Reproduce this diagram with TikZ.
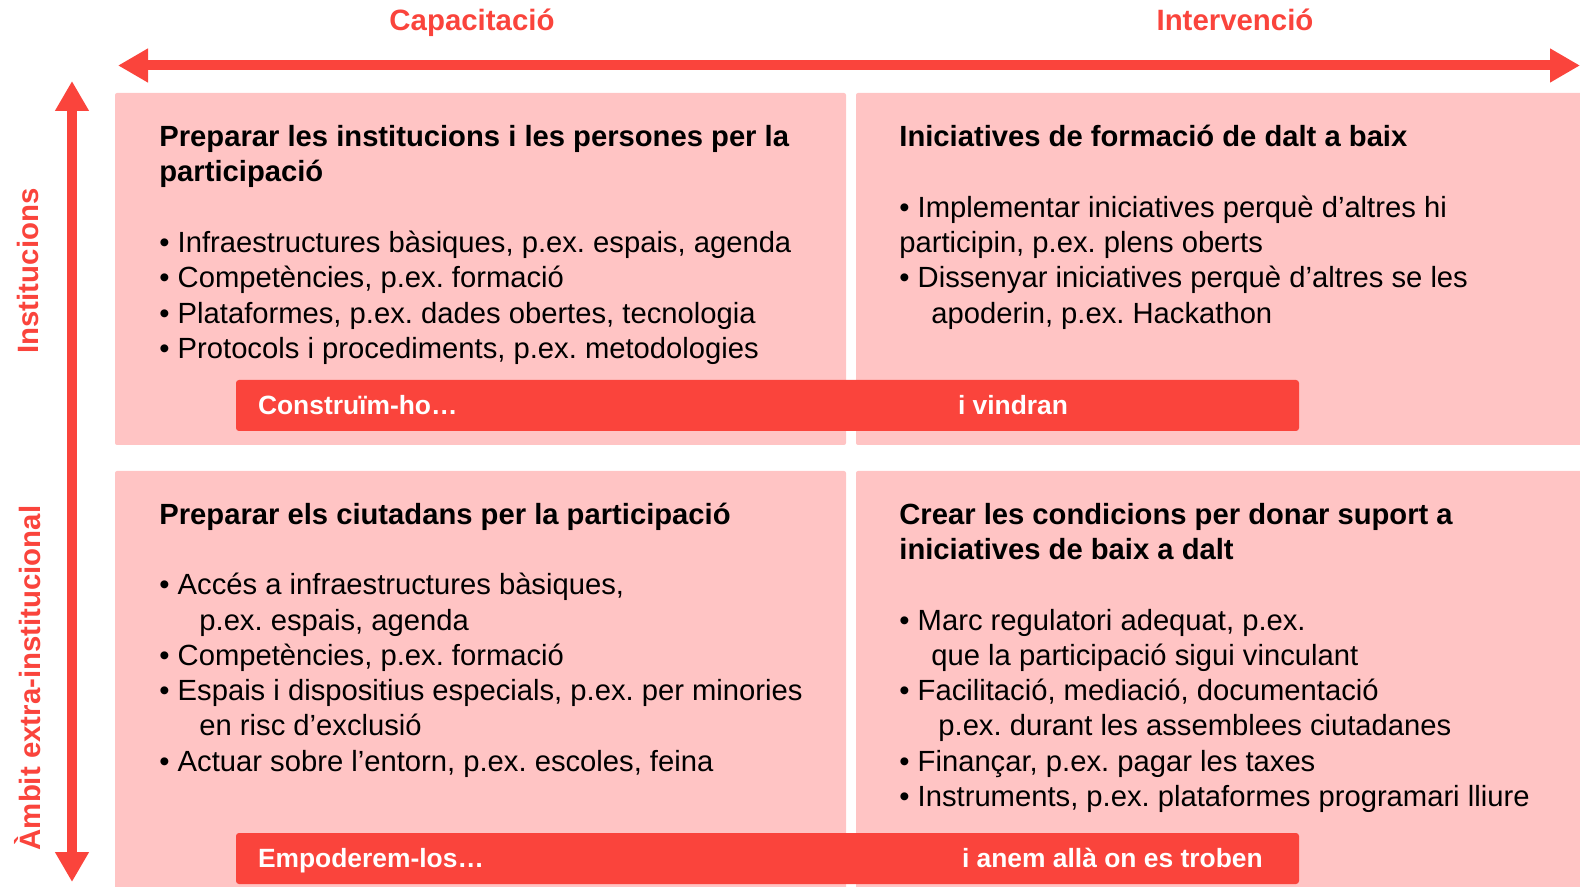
\documentclass[tikz,border=0pt]{standalone}
\usepackage{fontspec}
\setmainfont{Liberation Sans}
\usepackage{xcolor}
\usetikzlibrary{arrows.meta}

\definecolor{pinkbg}{RGB}{255,196,196}
\definecolor{redbar}{RGB}{250,68,60}
\newcommand{\itm}{\textbullet\ }
\frenchspacing

\begin{document}
\begin{tikzpicture}[x=0.5pt, y=-0.5pt,
    quad/.style={fill=pinkbg, rounded corners=1pt},
    bar/.style={fill=redbar, rounded corners=1.5pt, inner sep=0pt, minimum width=531.5pt, minimum height=25.5pt},
    bartext/.style={text=white, font=\fontsize{13.2}{15}\selectfont\bfseries, inner sep=0pt},
    axislabel/.style={text=redbar, font=\fontsize{14.7}{17.5}\selectfont\bfseries, inner sep=0pt},
    body/.style={align=left, inner sep=0pt, anchor=north west, font=\fontsize{14.6}{17.65}\selectfont},
    axis/.style={redbar, line width=5pt, {Triangle[length=15pt,width=16pt]}-{Triangle[length=15pt,width=16pt]}}]
\useasboundingbox (0,0) rectangle (1580,887);

% Quadrants
\fill[quad] (115,93) rectangle (846,445);
\fill[quad] (856,93) rectangle (1595,445);
\fill[quad] (115,471) rectangle (846,900);
\fill[quad] (856,471) rectangle (1595,900);

% Axes
\coordinate (capL) at (118,65.5);
\coordinate (intR) at (1580,65.5);
\coordinate (instT) at (72,81);
\coordinate (extB) at (72,882);
\draw[axis] (capL) -- (intR);
\draw[axis] (instT) -- (extB);

% Axis labels
\node[axislabel, anchor=base] (cap) at (472,31) {Capacitació};
\node[axislabel, anchor=base] (int) at (1235,31) {Intervenció};
\node[axislabel, rotate=90] (inst) at (28,271) {Institucions};
\node[axislabel, rotate=90] (ext) at (28,678) {Àmbit extra-institucional};

% Quadrant texts (top of first strut line)
\node[body] (tl) at (159,121.5) {%
\strut\textbf{Preparar les institucions i les persones per la}\\
\textbf{participació}\\[17.65pt]
\itm Infraestructures bàsiques, p.ex. espais, agenda\\
\itm Competències, p.ex. formació\\
\itm Plataformes, p.ex. dades obertes, tecnologia\\
\itm Protocols i procediments, p.ex. metodologies};

\node[body] (tr) at (899,121.5) {%
\strut\textbf{Iniciatives de formació de dalt a baix}\\[17.65pt]
\itm Implementar iniciatives perquè d’altres hi\\
participin, p.ex. plens oberts\\
\itm Dissenyar iniciatives perquè d’altres se les\\
\hspace*{16pt}apoderin, p.ex. Hackathon};

\node[body] (bl) at (159,499) {%
\strut\textbf{Preparar els ciutadans per la participació}\\[17.65pt]
\itm Accés a infraestructures bàsiques,\\
\hspace*{20pt}p.ex. espais, agenda\\
\itm Competències, p.ex. formació\\
\itm Espais i dispositius especials, p.ex. per minories\\
\hspace*{20pt}en risc d’exclusió\\
\itm Actuar sobre l’entorn, p.ex. escoles, feina};

\node[body] (br) at (899,499) {%
\strut\textbf{Crear les condicions per donar suport a}\\
\textbf{iniciatives de baix a dalt}\\[17.65pt]
\itm Marc regulatori adequat, p.ex.\\
\hspace*{16pt}que la participació sigui vinculant\\
\itm Facilitació, mediació, documentació\\
\hspace*{19.5pt}p.ex. durant les assemblees ciutadanes\\
\itm Finançar, p.ex. pagar les taxes\\
\itm Instruments, p.ex. plataformes programari lliure};

% Bars
\node[bar] (buildbar) at (767.5,405.5) {};
\node[bartext, anchor=base west] (build) at ([xshift=11pt, yshift=-4.7pt]buildbar.west) {Construïm-ho…};
\node[bartext, anchor=base west] (come) at ([xshift=361pt, yshift=-4.7pt]buildbar.west) {i vindran};

\node[bar] (powerbar) at (767.5,858.5) {};
\node[bartext, anchor=base west] (power) at ([xshift=11pt, yshift=-4.7pt]powerbar.west) {Empoderem-los…};
\node[bartext, anchor=base west] (go) at ([xshift=363pt, yshift=-4.7pt]powerbar.west) {i anem allà on es troben};
\end{tikzpicture}
\end{document}
